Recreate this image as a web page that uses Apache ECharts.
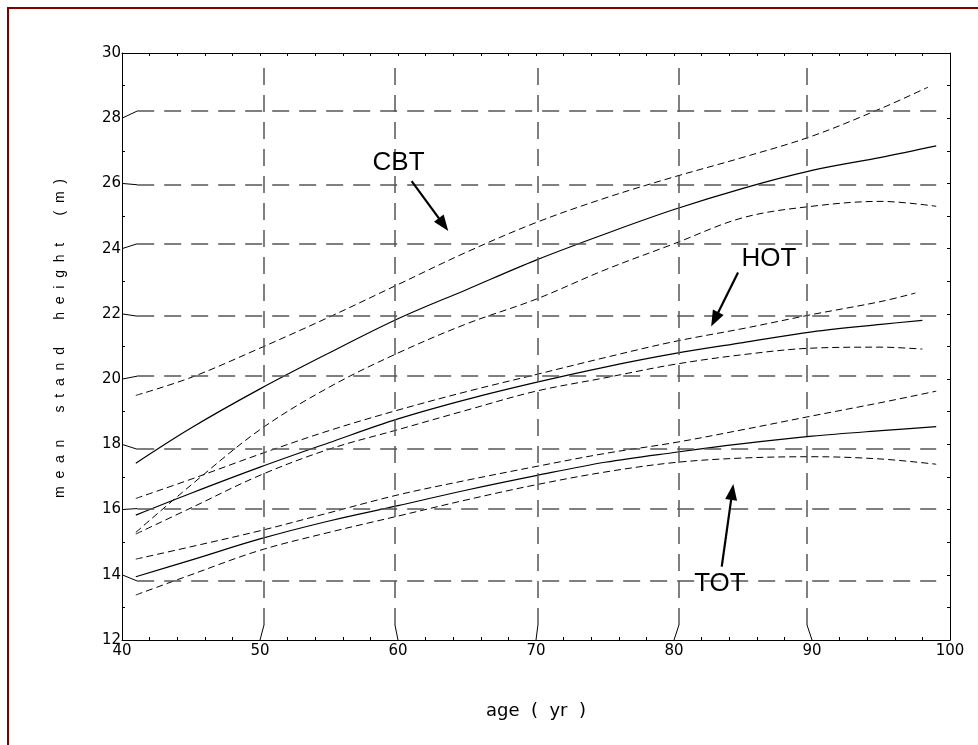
<!DOCTYPE html>
<html>
<head>
<meta charset="utf-8">
<script src="https://cdn.jsdelivr.net/npm/echarts@6/dist/echarts.min.js"></script>
<style>
html,body{margin:0;padding:0;background:#fff;}
#chart{width:978px;height:745px;}
</style>
</head>
<body>
<div id="chart"></div>
<script>
// ---- data ----
const ages = [41, 45, 50, 55, 60, 65, 70, 75, 80, 85, 90, 95];

const cbtUpper = [19.5, 20.05, 20.95, 21.9, 22.9, 23.9, 24.8, 25.55, 26.2, 26.8, 27.45, 28.3, 28.95];
const cbtMean  = [17.42, 18.5, 19.7, 20.8, 21.85, 22.75, 23.65, 24.45, 25.2, 25.85, 26.4, 26.8, 27.15];
const cbtLower = [15.3, 16.75, 18.45, 19.75, 20.8, 21.7, 22.45, 23.35, 24.15, 24.95, 25.3, 25.45, 25.3];

const hotUpper = [16.34, 16.93, 17.7, 18.42, 19.05, 19.62, 20.14, 20.66, 21.15, 21.55, 21.98, 22.38, 22.64];
const hotMean  = [15.83, 16.5, 17.3, 18.05, 18.78, 19.38, 19.9, 20.37, 20.78, 21.12, 21.45, 21.68, 21.8];
const hotLower = [15.25, 16.05, 17.05, 17.85, 18.45, 19.05, 19.63, 20.04, 20.45, 20.75, 20.95, 20.98, 20.92];

const totUpper = [14.48, 14.86, 15.35, 15.9, 16.45, 16.9, 17.32, 17.72, 18.05, 18.45, 18.87, 19.28, 19.63];
const totMean  = [13.94, 14.45, 15.1, 15.65, 16.12, 16.6, 17.04, 17.45, 17.75, 18.02, 18.25, 18.42, 18.54];
const totLower = [13.38, 14.0, 14.75, 15.3, 15.8, 16.3, 16.76, 17.15, 17.44, 17.58, 17.62, 17.55, 17.39];

// last age of each curve (same order as curveNames)
const curveNames = ['CBT upper', 'CBT', 'CBT lower', 'HOT upper', 'HOT', 'HOT lower', 'TOT upper', 'TOT', 'TOT lower'];
const curveValues = [cbtUpper, cbtMean, cbtLower, hotUpper, hotMean, hotLower, totUpper, totMean, totLower];
const lastAge = [98.4, 99, 99, 97.5, 98, 98, 99, 99, 99];
const curveDashed = [true, false, true, true, false, true, true, false, true];

// axis ticks
const xTicks = [40, 50, 60, 70, 80, 90, 100];
const yTicks = [12, 14, 16, 18, 20, 22, 24, 26, 28, 30];

// grid lines as drawn in the reference (slightly displaced from their ticks)
const gridXTicks = [50, 60, 70, 80, 90];
const gridXAt = [50.29, 59.78, 70.14, 80.36, 89.64];
const gridYTicks = [14, 16, 18, 20, 22, 24, 26, 28];
const gridYAt = [13.81, 16.03, 17.85, 20.09, 21.93, 24.15, 25.96, 28.22];
const gridAgeSpan = [41.1, 99.0];
const gridHeightSpan = [12.46, 29.56];

// annotations
const annotLabels = ['CBT', 'HOT', 'TOT'];
const annotTextAt = [[60.04, 26.64], [86.88, 23.70], [83.33, 13.72]];
const arrowFrom = [[60.99, 26.07], [84.64, 23.27], [83.46, 14.25]];
const arrowTo = [[63.30, 24.74], [82.95, 21.83], [84.22, 16.54]];

// ---- chart ----
const chart = echarts.init(document.getElementById('chart'), null, {renderer: 'canvas'});

const tickFont = {fontFamily: 'DejaVu Sans', fontSize: 15, color: '#000'};

const curveSeries = curveNames.map((name, i) => ({
  name: name,
  type: 'line',
  z: 3,
  showSymbol: false,
  symbol: 'none',
  smooth: 0.35,
  silent: true,
  data: ages.concat([lastAge[i]]).map((a, j) => [a, curveValues[i][j]]),
  lineStyle: curveDashed[i]
    ? {color: '#000', width: 1, type: [7, 4]}
    : {color: '#000', width: 1.2, type: 'solid'}
}));

const gridLines = [];
gridYAt.forEach(v => gridLines.push([{coord: [gridAgeSpan[0], v]}, {coord: [gridAgeSpan[1], v]}]));
gridXAt.forEach(v => gridLines.push([{coord: [v, gridHeightSpan[0]]}, {coord: [v, gridHeightSpan[1]]}]));

const connectors = [];
gridYTicks.forEach((t, i) => connectors.push([{coord: [40, t]}, {coord: [gridAgeSpan[0], gridYAt[i]]}]));
gridXTicks.forEach((t, i) => connectors.push([{coord: [t, 12]}, {coord: [gridXAt[i], gridHeightSpan[0]]}]));

const arrows = annotLabels.map((t, i) => [
  {coord: arrowFrom[i], symbol: 'none'},
  {coord: arrowTo[i], symbol: 'triangle', symbolSize: [12, 16]}
]);

const option = {
  animation: false,
  backgroundColor: '#fff',
  grid: {left: 122, right: 28, top: 53, bottom: 105, containLabel: false, outerBoundsMode: 'none'},
  xAxis: [
    {
      type: 'value', min: xTicks[0], max: xTicks[xTicks.length - 1], interval: 10,
      position: 'bottom',
      axisLine: {show: true, lineStyle: {color: '#000', width: 1}},
      axisTick: {show: false, inside: true},
      minorTick: {show: true, splitNumber: 5, length: 3, lineStyle: {color: '#000', width: 1}},
      splitLine: {show: false},
      axisLabel: Object.assign({margin: 4, formatter: v => xTicks.includes(v) ? String(v) : ''}, tickFont),
      name: 'age  (  yr  )',
      nameLocation: 'middle',
      nameGap: 62,
      nameTextStyle: {fontFamily: 'DejaVu Sans', fontSize: 18, color: '#000'}
    },
    {
      type: 'value', min: 40, max: 100, interval: 2,
      position: 'top',
      axisLine: {show: true, lineStyle: {color: '#000', width: 1}},
      axisTick: {show: true, inside: true, length: 3, lineStyle: {color: '#000'}},
      axisLabel: {show: false},
      splitLine: {show: false}
    }
  ],
  yAxis: [
    {
      type: 'value', min: yTicks[0], max: yTicks[yTicks.length - 1], interval: 2,
      position: 'left',
      axisLine: {show: true, lineStyle: {color: '#000', width: 1}},
      axisTick: {show: false, inside: true},
      minorTick: {show: true, splitNumber: 2, length: 3, lineStyle: {color: '#000', width: 1}},
      splitLine: {show: false},
      axisLabel: Object.assign({margin: 1, verticalAlign: 'middle', padding: [0, 0, 13, 0],
        formatter: v => yTicks.includes(v) ? String(v) : ''}, tickFont),
      name: 'm  e  a  n       s  t  a  n  d       h  e  i  g  h  t       (  m  )',
      nameLocation: 'middle',
      nameRotate: 90,
      nameGap: 55,
      nameTextStyle: {fontFamily: 'Liberation Sans', fontSize: 14, color: '#000', padding: [0, 0, 0, 16]}
    },
    {
      type: 'value', min: 12, max: 30, interval: 1,
      position: 'right',
      axisLine: {show: true, lineStyle: {color: '#000', width: 1}},
      axisTick: {show: true, inside: true, length: 3, lineStyle: {color: '#000'}},
      axisLabel: {show: false},
      splitLine: {show: false}
    }
  ],
  graphic: [
    {
      type: 'rect', silent: true, z: 100,
      shape: {x: 8, y: 8, width: 1100, height: 1100},
      style: {fill: 'none', stroke: '#800000', lineWidth: 2}
    }
  ],
  series: [
    {
      name: 'grid', type: 'line', data: [], z: 1, silent: true,
      markLine: {
        silent: true, animation: false, symbol: ['none', 'none'],
        label: {show: false},
        lineStyle: {color: '#555', width: 1.5, type: [17, 10]},
        emphasis: {disabled: true},
        data: gridLines
      }
    },
    {
      name: 'connectors', type: 'line', data: [], z: 1, silent: true,
      markLine: {
        silent: true, animation: false, symbol: ['none', 'none'],
        label: {show: false},
        lineStyle: {color: '#000', width: 1, type: 'solid'},
        emphasis: {disabled: true},
        data: connectors
      }
    }
  ].concat(curveSeries).concat([
    {
      name: 'annotations', type: 'line', data: [], z: 5, silent: true,
      markLine: {
        silent: true, animation: false, symbol: ['none', 'triangle'],
        label: {show: false},
        lineStyle: {color: '#000', width: 2.2, type: 'solid'},
        itemStyle: {color: '#000'},
        emphasis: {disabled: true},
        data: arrows
      },
      markPoint: {
        silent: true, animation: false,
        symbol: 'circle', symbolSize: 1,
        itemStyle: {color: 'rgba(0,0,0,0)'},
        label: {show: true, position: 'inside', formatter: '{b}', color: '#000',
          fontFamily: 'Liberation Sans', fontSize: 26},
        emphasis: {disabled: true},
        data: annotLabels.map((t, i) => ({name: t, coord: annotTextAt[i]}))
      }
    }
  ])
};

chart.setOption(option);
</script>
</body>
</html>
